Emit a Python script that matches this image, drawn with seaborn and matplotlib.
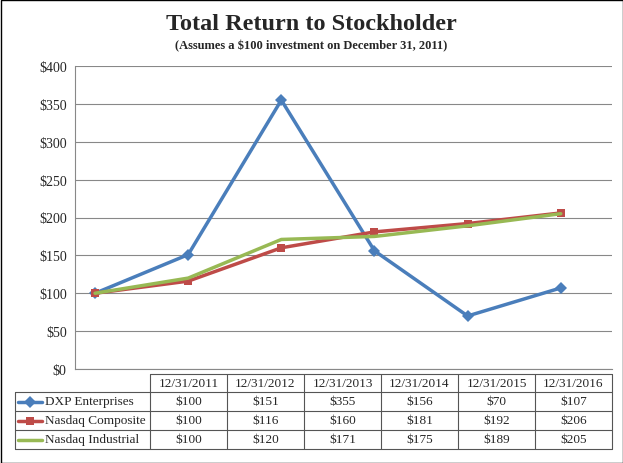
import matplotlib
matplotlib.use("Agg")
import matplotlib.pyplot as plt
import seaborn as sns
import pandas as pd
from matplotlib.patches import Rectangle

dates = ["12/31/2011","12/31/2012","12/31/2013","12/31/2014","12/31/2015","12/31/2016"]
dxp = [100,151,355,156,70,107]
nasdaq_comp = [100,116,160,181,192,206]
nasdaq_ind = [100,120,171,175,189,205]
series_names = ["DXP Enterprises","Nasdaq Composite","Nasdaq Industrial"]
colors = ["#4a7ebb","#be4b48","#98b954"]
markers = ["D","s",None]

sns.set_style("white")
plt.rcParams['font.family'] = ['Liberation Serif','DejaVu Serif']
W,H = 623,464
fig = plt.figure(figsize=(W/100,H/100),dpi=100)
fig.patches.append(Rectangle((0.5/W,0.5/H),1-1/W,1-1/H,transform=fig.transFigure,fill=False,ec="black",lw=1))

def fx(p): return p/W
def fy(p): return 1-p/H
ax = fig.add_axes([fx(75),fy(370),fx(612)-fx(75),fy(67)-fy(370)])
df = pd.DataFrame({"x":list(range(6))*3,"v":dxp+nasdaq_comp+nasdaq_ind,
                   "s":sum([[n]*6 for n in series_names],[])})
for i,n in enumerate(series_names):
    d = df[df.s==n]
    sns.lineplot(data=d,x="x",y="v",ax=ax,color=colors[i],marker=markers[i],
                 markersize=6,lw=2.5,markeredgewidth=0)
ax.set_xlim(-0.215,5.55)
ax.set_ylim(0,400)
ax.set_yticks(range(0,401,50))
ax.set_yticklabels([f"${v}" for v in range(0,401,50)],fontsize=10)
ax.set_xticks([])
ax.set_xlabel(""); ax.set_ylabel("")
ax.grid(axis="y",color="#888888",lw=0.8)
for s in ["top","right"]: ax.spines[s].set_visible(False)
ax.spines["left"].set_color("#888888"); ax.spines["bottom"].set_color("#888888")
ax.tick_params(axis="y",length=4,color="#888888",pad=2)

fig.text(0.5,fy(25),"Total Return to Stockholder",ha="center",va="center",fontsize=17.5,fontweight="bold")
fig.text(0.5,fy(46),"(Assumes a $100 investment on December 31, 2011)",ha="center",va="center",fontsize=9,fontweight="bold")

tx = fig.add_axes([0,0,1,1]); tx.set_xlim(0,W); tx.set_ylim(H,0); tx.axis("off")
cols = [150+i*77 for i in range(7)]
rows = [375,393,412,431,450]
lc="#555555"
for yv in rows:
    tx.plot([15 if yv>375 else 150,612],[yv,yv],color=lc,lw=0.8)
for i,xv in enumerate(cols):
    tx.plot([xv,xv],[375,450],color=lc,lw=0.8)
tx.plot([15,15],[393,450],color=lc,lw=0.8)
for j,d in enumerate(dates):
    tx.text((cols[j]+cols[j+1])/2,384,d,ha="center",va="center",fontsize=9.5)
vals=[dxp,nasdaq_comp,nasdaq_ind]
for r in range(3):
    yc=(rows[r+1]+rows[r+2])/2
    tx.plot([18,42],[yc,yc],color=colors[r],lw=2.5)
    if markers[r]: tx.plot([30],[yc],marker=markers[r],color=colors[r],ms=6,mew=0)
    tx.text(45,yc,series_names[r],va="center",fontsize=9.5)
    for j,v in enumerate(vals[r]):
        tx.text((cols[j]+cols[j+1])/2,yc,f"${v}",ha="center",va="center",fontsize=9.5)
fig.savefig("out.png",dpi=100)
